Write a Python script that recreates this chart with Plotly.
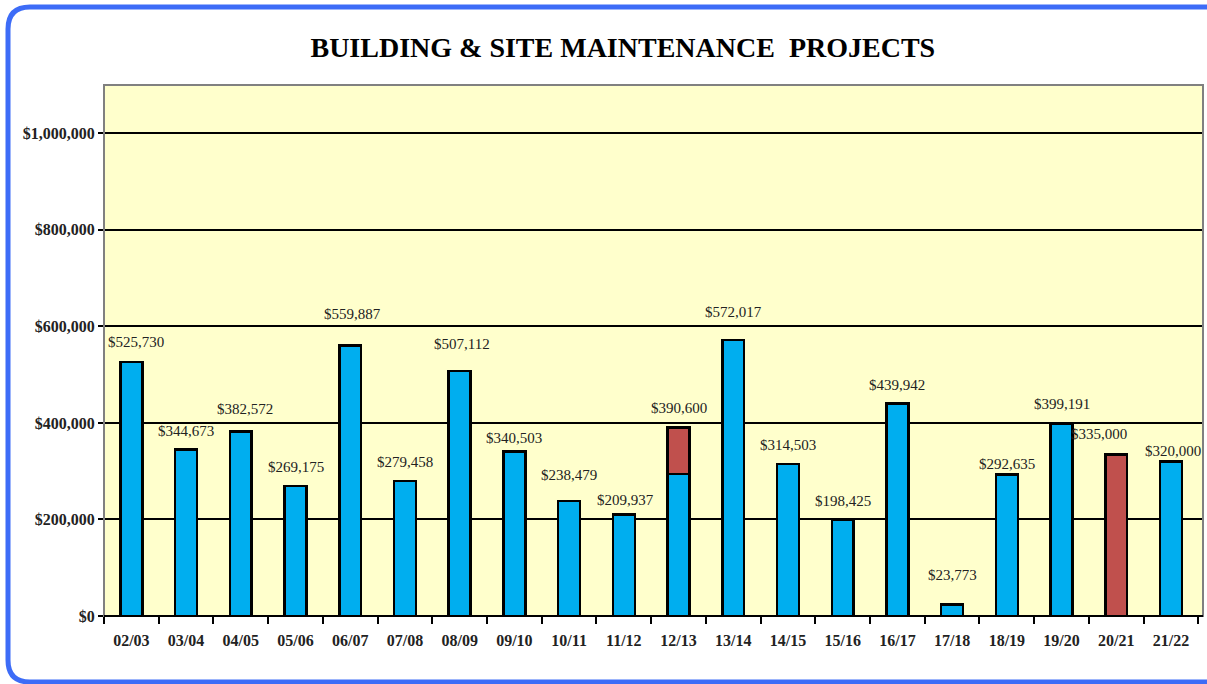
import plotly.graph_objects as go

years = ["02/03", "03/04", "04/05", "05/06", "06/07", "07/08", "08/09", "09/10",
         "10/11", "11/12", "12/13", "13/14", "14/15", "15/16", "16/17", "17/18",
         "18/19", "19/20", "20/21", "21/22"]
blue_part = [525730, 344673, 382572, 269175, 559887, 279458, 507112, 340503,
             238479, 209937, 294000, 572017, 314503, 198425, 439942, 23773,
             292635, 399191, None, 320000]
red_part = [None, None, None, None, None, None, None, None,
            None, None, 96600, None, None, None, None, None,
            None, None, 335000, None]
totals = [525730, 344673, 382572, 269175, 559887, 279458, 507112, 340503,
          238479, 209937, 390600, 572017, 314503, 198425, 439942, 23773,
          292635, 399191, 335000, 320000]
y_ticks = [0, 200000, 400000, 600000, 800000, 1000000]
y_tick_labels = ["$0", "$200,000", "$400,000", "$600,000", "$800,000", "$1,000,000"]

W, H = 1207, 684
ML, MR, MT, MB = 104, 4, 85, 68
PW, PH = W - ML - MR, H - MT - MB

def px(x):
    return (x - ML) / PW

def py(y):
    return (H - MB - y) / PH

# label nudges in pixels (dx, dy), as placed in the original chart
nudges = {"02/03": (5, 1), "04/05": (4, 3), "06/07": (2, 13), "08/09": (2, 8),
          "10/11": (0, 7), "13/14": (0, 9), "17/18": (0, 11), "18/19": (0, -8),
          "20/21": (-17, 1), "21/22": (2, -8), "09/10": (0, -5), "11/12": (2, -4)}

fig = go.Figure()
fig.add_trace(go.Bar(x=years, y=blue_part, marker=dict(color="#00AEEF", line=dict(color="black", width=2.5)),
                     showlegend=False, hoverinfo="skip"))
fig.add_trace(go.Bar(x=years, y=red_part, marker=dict(color="#C0504D", line=dict(color="black", width=2.5)),
                     showlegend=False, hoverinfo="skip"))

for yr, t in zip(years, totals):
    dx, dy = nudges.get(yr, (0, 0))
    fig.add_annotation(x=yr, y=t, text="$" + f"{t:,}", showarrow=False, yanchor="bottom",
                       yshift=9 + dy, xshift=dx,
                       font=dict(family="Liberation Serif", size=15, color="#222"))

# outer rounded border
x0, x1, y0, y1, r = 8, 1212, 7, 682, 22
path = (f"M {px(x0+r)},{py(y0)} L {px(x1)},{py(y0)} L {px(x1)},{py(y1)} L {px(x0+r)},{py(y1)} "
        f"Q {px(x0)},{py(y1)} {px(x0)},{py(y1-r)} L {px(x0)},{py(y0+r)} "
        f"Q {px(x0)},{py(y0)} {px(x0+r)},{py(y0)} Z")
fig.add_shape(type="path", path=path, xref="paper", yref="paper",
              line=dict(color="#3D6CF7", width=5), layer="above")
# plot area frame
fig.add_shape(type="rect", x0=0, x1=1, y0=0, y1=1, xref="paper", yref="paper",
              line=dict(color="#808080", width=2), layer="above")
fig.add_shape(type="line", x0=0, x1=1, y0=0, y1=0, xref="paper", yref="paper",
              line=dict(color="black", width=2), layer="above")

fig.update_layout(
    width=W, height=H,
    margin=dict(l=ML, r=MR, t=MT, b=MB),
    paper_bgcolor="white", plot_bgcolor="#FFFFCC",
    barmode="stack", bargap=0.6,
    title=dict(text="<b>BUILDING &amp; SITE MAINTENANCE  PROJECTS</b>", x=0.516, xanchor="center",
               y=1 - 47 / H, yanchor="middle",
               font=dict(family="Liberation Serif", size=28, color="black")),
    xaxis=dict(type="category", tickson="boundaries", ticks="outside", ticklen=7, tickwidth=2,
               tickcolor="black", showgrid=False, showline=False,
               tickvals=years, ticktext=["<b>" + y + "</b>" for y in years],
               tickfont=dict(family="Liberation Serif", size=16, color="#222"),
               ticklabelstandoff=13),
    yaxis=dict(range=[0, 1100000], tickvals=y_ticks, ticktext=["<b>" + s + "</b>" for s in y_tick_labels],
               ticks="outside", ticklen=5, tickwidth=2, tickcolor="black",
               showgrid=True, gridcolor="black", gridwidth=2, zeroline=False, showline=False,
               tickfont=dict(family="Liberation Serif", size=16, color="#222")),
    font=dict(family="Liberation Serif"),
)

fig.write_html("out.html")
